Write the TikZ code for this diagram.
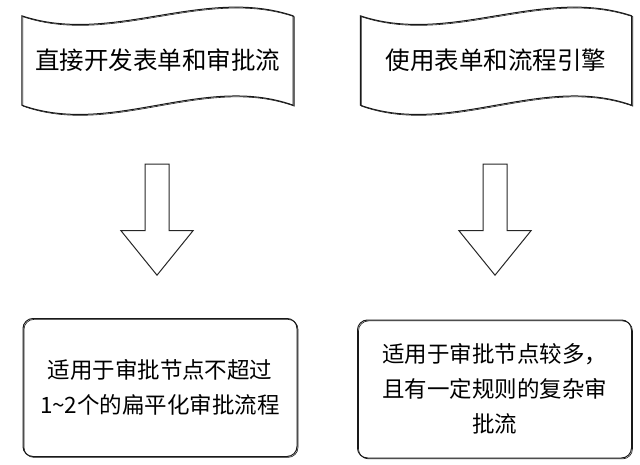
\documentclass[tikz,border=0pt]{standalone}
\usepackage{fontspec}
\setmainfont{Noto Sans CJK SC}
\usetikzlibrary{shapes.arrows}

\begin{document}
\begin{tikzpicture}[
  x=1pt, y=-1pt,
  rough/.style={draw=black!90, line width=1pt,
    postaction={draw=black!90, line width=0.6pt, transform canvas={shift={(1pt,-0.9pt)}}}},
  banner/.style={minimum width=271pt, minimum height=89pt, inner sep=0pt,
    font=\fontsize{24.5}{28}\selectfont},
  note/.style={rough, rounded corners=10pt, minimum width=274pt, minimum height=138pt,
    align=center, inner sep=0pt, font=\fontsize{22.5}{35}\selectfont},
  downarrow/.style={draw=black!85, line width=1pt, single arrow, shape border rotate=270,
    inner sep=11.5pt, minimum height=111pt, single arrow head extend=24pt,
    single arrow tip angle=78}
]
\useasboundingbox (0,0) rectangle (640,465);

% top row, wavy banners
\node[banner] (form) at (157.5,60.5) {直接开发表单和审批流};
\node[banner] (engine) at (496,60.5) {使用表单和流程引擎};
\foreach \n in {form,engine}
  \draw[rough] (\n.north west) .. controls +(90,30) and +(-90,-30) .. (\n.north east)
    -- (\n.south east) .. controls +(-90,-32) and +(90,32) .. (\n.south west) -- cycle;

% arrows
\node[downarrow, anchor=tip] (a1) at (157,276) {};
\node[downarrow, anchor=tip] (a2) at (495,276) {};

% bottom row
\node[note] (flat) at (160,387.5) {适用于审批节点不超过\\1\textasciitilde2个的扁平化审批流程};
\node[note] (complex) at (494.5,389) {适用于审批节点较多，\\且有一定规则的复杂审\\批流};
\end{tikzpicture}
\end{document}
